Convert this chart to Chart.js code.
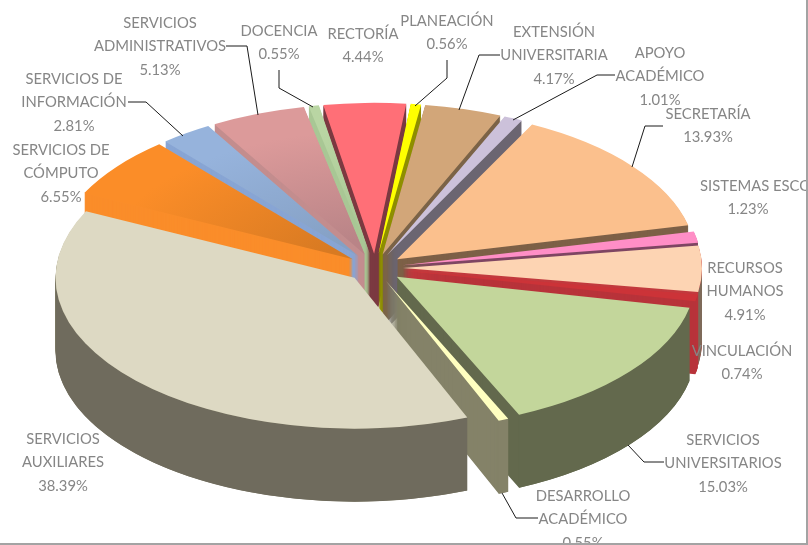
<!DOCTYPE html>
<html lang="es">
<head>
<meta charset="utf-8">
<style>html,body{margin:0;padding:0;background:#fff}canvas{display:block}</style>
<script src="https://cdn.jsdelivr.net/npm/chart.js@4/dist/chart.umd.min.js"></script>
</head>
<body>
<canvas id="c" width="808" height="545"></canvas>
<script>
const categories = ["RECTORÍA","PLANEACIÓN","EXTENSIÓN\nUNIVERSITARIA","APOYO\nACADÉMICO","SECRETARÍA","SISTEMAS ESCO","RECURSOS\nHUMANOS","VINCULACIÓN","SERVICIOS\nUNIVERSITARIOS","DESARROLLO\nACADÉMICO","SERVICIOS\nAUXILIARES","SERVICIOS DE\nCÓMPUTO","SERVICIOS DE\nINFORMACIÓN","SERVICIOS\nADMINISTRATIVOS","DOCENCIA"];
const values = [4.44,0.56,4.17,1.01,13.93,1.23,4.91,0.74,15.03,0.55,38.39,6.55,2.81,5.13,0.55];
const topColors = ["#ff6f77","#ffff00","#d2a679","#ccc1da","#fbc08d","#ff8ec6","#fdd4b3","#cc3338","#c3d69b","#ffffc0","#ddd9c3","#fb8d28","#96b3dc","#dc9a9a","#b9d5a3"];
const innerColors = ["#ff6f77","#ffff00","#d2a679","#ccc1da","#fbc08d","#ff8ec6","#fdd4b3","#cc3338","#c3d69b","#ffffc0","#ddd9c3","#d87a22","#85a0c4","#b98487","#a9c795"];
const faceColors = ["#7c3a42","#8f8f00","#7b6347","#6b6571","#7d6047","#7f4663","#c23a3e","#b8333a","#63694d","#848268","#807d66","#fa8d2a","#88a5d4","#c38d8e","#a9c795"];
const rimColors = ["#7c3a42","#8f8f00","#7b6347","#6b6571","#7d6047","#7f4663","#7e6a59","#b8333a","#63694d","#848268","#6f6b5d","#fa8d2a","#88a5d4","#c38d8e","#a9c795"];
const labelX = [363,447,554,660,708,700,745,742,723,583,63,61,74,160,279];
const labelY = [34,21,32,53,114,186,268,351,440,496,439,150,79,23,31];
const leaders = [
  [[447,60],[447,78],[415,106]],
  [[500,55],[479,55],[459,110]],
  [[615,75],[597,75],[513,120]],
  [[663,126],[645,126],[632,167]],
  [[664,462],[644,462],[628,445]],
  [[538,518],[516,518],[502,493]],
  [[128,102],[146,102],[183,136]],
  [[226,46],[247,46],[258,115]],
  [[279,70],[279,88],[313,107]]
];
const CX = 375, CY = 268, RX = 299, RATIO = 0.505, EXPLODE = 28, DEPTH = 73;

function ghostOf(el, color) {
  const g = Object.create(el);
  g.options = {backgroundColor: color, borderColor: color, borderWidth: 0, borderAlign: 'center',
    borderRadius: 0, offset: 0, spacing: 0, circular: true, borderJoinStyle: 'round'};
  return g;
}

const pie3d = {
  id: 'pie3d',
  beforeDatasetDraw(chart, args) {
    const ctx = chart.ctx;
    const arcs = args.meta.data;
    const R = arcs[0].outerRadius;
    const s = RX / R, sy = s * RATIO;
    const largest = values.indexOf(Math.max(...values));
    const key = i => i === largest ? 9 : Math.sin((arcs[i].startAngle + arcs[i].endAngle) / 2);
    const order = arcs.map((a, i) => i).sort((p, q) => key(p) - key(q));
    for (const i of order) {
      const el = arcs[i];
      const mid = (el.startAngle + el.endAngle) / 2;
      ctx.save();
      ctx.translate(CX, CY);
      ctx.scale(s, sy);
      ctx.translate(-el.x, -el.y);
      ctx.translate(Math.cos(mid) * EXPLODE / s, Math.sin(mid) * EXPLODE / s);
      // radial faces
      const face = ghostOf(el, faceColors[i]);
      const step = 1 / sy;
      for (let k = DEPTH; k >= 1; k--) {
        ctx.save();
        ctx.translate(0, k * step);
        face.draw(ctx);
        ctx.restore();
      }
      // outer rim
      const a0 = Math.max(el.startAngle, 0), a1 = Math.min(el.endAngle, Math.PI);
      if (a1 > a0) {
        ctx.beginPath();
        ctx.arc(el.x, el.y, R, a0, a1);
        ctx.arc(el.x, el.y + DEPTH * step, R, a1, a0, true);
        ctx.closePath();
        ctx.fillStyle = rimColors[i];
        ctx.fill();
      }
      // top surface
      let fill = topColors[i];
      if (innerColors[i] !== topColors[i]) {
        fill = ctx.createRadialGradient(el.x, el.y, R * 0.1, el.x, el.y, R);
        fill.addColorStop(0, innerColors[i]);
        fill.addColorStop(0.8, topColors[i]);
        fill.addColorStop(1, topColors[i]);
      }
      ghostOf(el, fill).draw(ctx);
      ctx.restore();
    }
    return false;
  },
  afterDraw(chart) {
    const ctx = chart.ctx;
    ctx.save();
    ctx.strokeStyle = '#1a1a1a';
    ctx.lineWidth = 1;
    for (const pts of leaders) {
      ctx.beginPath();
      pts.forEach((p, i) => i ? ctx.lineTo(p[0], p[1]) : ctx.moveTo(p[0], p[1]));
      ctx.stroke();
    }
    ctx.fillStyle = '#868686';
    ctx.font = '14.8px Lato';
    ctx.textBaseline = 'middle';
    categories.forEach((name, i) => {
      const lines = name.split('\n').concat(values[i].toFixed(2) + '%');
      lines.forEach((t, j) => {
        ctx.textAlign = 'center';
        let x = labelX[i];
        if (name === 'SISTEMAS ESCO' && j === 0) ctx.textAlign = 'left';
        if (name === 'SISTEMAS ESCO' && j === 1) x = 748;
        ctx.fillText(t, x, labelY[i] + j * 23.5);
      });
    });
    ctx.fillStyle = '#a3a3a3';
    ctx.fillRect(0, 543, 808, 2);
    ctx.fillRect(806, 0, 2, 545);
    ctx.restore();
  }
};

new Chart(document.getElementById('c'), {
  type: 'pie',
  data: {labels: categories, datasets: [{data: values, backgroundColor: topColors, borderWidth: 0, rotation: -9.8}]},
  options: {
    responsive: false,
    animation: false,
    events: [],
    plugins: {legend: {display: false}, tooltip: {enabled: false}}
  },
  plugins: [pie3d]
});
</script>
</body>
</html>
